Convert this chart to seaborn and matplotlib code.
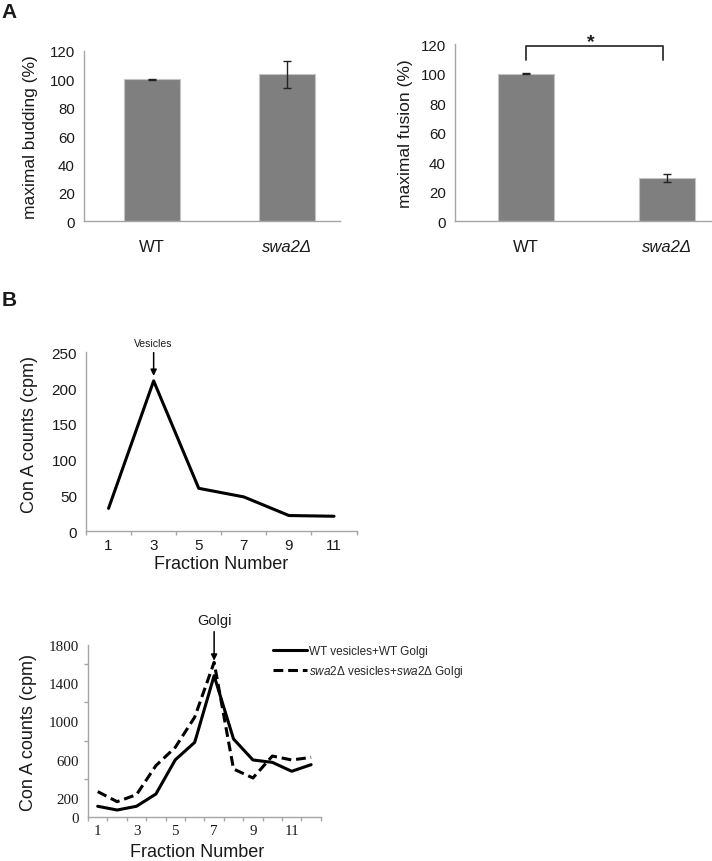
import matplotlib
matplotlib.use('Agg')
import matplotlib.pyplot as plt
import numpy as np
import pandas as pd
import seaborn as sns

# Panel A data
strains = ['WT', 'swa2Δ']
budding = [100, 103.5]
budding_err = [0.3, 9.5]
fusion = [100, 29.3]
fusion_err = [0.3, 2.8]

# Panel B top: vesicle fractions
ves_fraction = [1, 3, 5, 7, 9, 11]
ves_counts = [32, 210, 60, 48, 22, 21]

# Panel B bottom: Golgi fractions
golgi_fraction = [1, 2, 3, 4, 5, 6, 7, 8, 9, 10, 11, 12]
wt_counts = [115, 76, 115, 243, 600, 782, 1477, 817, 598, 573, 480, 549]
swa2_counts = [268, 163, 236, 539, 730, 1045, 1616, 504, 410, 639, 598, 625]

sns.set_style('white')
plt.rcParams['font.family'] = ['Liberation Sans', 'DejaVu Sans']
plt.rcParams['mathtext.fontset'] = 'custom'
plt.rcParams['mathtext.rm'] = 'Liberation Sans'
plt.rcParams['mathtext.it'] = 'Liberation Sans:italic'

spine_gray = '#a6a6a6'
text_col = '#1a1a1a'
bar_gray = '#7f7f7f'

fig = plt.figure(figsize=(7.12, 8.62), dpi=100)


def style_axes(ax):
    sns.despine(ax=ax)
    for s in ('left', 'bottom'):
        ax.spines[s].set_color(spine_gray)
        ax.spines[s].set_linewidth(1.0)
    ax.tick_params(axis='y', length=3, color=spine_gray, width=1.0, colors=text_col)
    ax.tick_params(axis='y', color=spine_gray)


def bar_panel(rect, values, errs, ylabel, xlim, width):
    ax = fig.add_axes(rect)
    sns.barplot(x=strains, y=values, color=bar_gray, saturation=1, width=width,
                edgecolor='#c4c4c4', linewidth=0.8, errorbar=None, ax=ax)
    ax.errorbar(np.arange(len(strains)), values, yerr=errs, fmt='none',
                ecolor='#222222', elinewidth=1.0, capsize=3, capthick=1.0)
    style_axes(ax)
    ax.set_ylim(0, 120)
    ax.set_yticks(np.arange(0, 121, 20))
    ax.set_xlim(*xlim)
    ax.tick_params(axis='x', length=0, pad=13, labelsize=12, colors=text_col)
    ax.tick_params(axis='y', labelsize=10.8)
    ax.get_xticklabels()[1].set_fontstyle('italic')
    ax.set_ylabel(ylabel, fontsize=12.5, color=text_col)
    ax.set_xlabel('')
    return ax


axA1 = bar_panel([0.118, 0.742, 0.3596, 0.198], budding, budding_err,
                 'maximal budding (%)', (-0.504, 1.393), 0.41)
axA1.yaxis.set_label_coords(-0.18, 0.5)

axA2 = bar_panel([0.639, 0.742, 0.361, 0.2057], fusion, fusion_err,
                 'maximal fusion (%)', (-0.504, 1.319), 0.40)
axA2.yaxis.set_label_coords(-0.163, 0.5)
# significance bracket
axA2.plot([0, 0, 0.97, 0.97], [109, 118.8, 118.8, 109], color='#333333', lw=1.3,
          clip_on=False)
axA2.text(0.46, 122, '*', ha='center', va='center', fontsize=14, fontweight='bold',
          color=text_col, clip_on=False)

# Panel B top
axB1 = fig.add_axes([0.1208, 0.3825, 0.380, 0.2077])
sns.lineplot(x=ves_fraction, y=ves_counts, color='black', lw=2.2, ax=axB1)
style_axes(axB1)
axB1.set_ylim(0, 250)
axB1.set_yticks(np.arange(0, 251, 50))
axB1.set_xlim(0, 12)
axB1.set_xticks(ves_fraction)
axB1.set_xticks(np.arange(0, 13, 2), minor=True)
axB1.tick_params(axis='x', which='major', length=0, pad=5, labelsize=11, colors=text_col)
axB1.tick_params(axis='x', which='minor', length=3, color=spine_gray, width=1.0,
                 bottom=True)
axB1.tick_params(axis='y', labelsize=11)
axB1.set_ylabel('Con A counts (cpm)', fontsize=13, color=text_col)
axB1.yaxis.set_label_coords(-0.178, 0.544)
axB1.set_xlabel('Fraction Number', fontsize=13, color=text_col, labelpad=2)
axB1.annotate('Vesicles', xy=(3, 217), xytext=(3, 256), ha='center', va='bottom',
              fontsize=7.5, color=text_col, annotation_clip=False,
              arrowprops=dict(arrowstyle='-|>', color='black', lw=1.1,
                              mutation_scale=9, shrinkA=1, shrinkB=0))

# Panel B bottom
axB2 = fig.add_axes([0.1236, 0.0507, 0.327, 0.2002])
sns.lineplot(x=golgi_fraction, y=wt_counts, color='black', lw=2.2, ax=axB2,
             label='WT vesicles+WT Golgi')
sns.lineplot(x=golgi_fraction, y=swa2_counts, color='black', lw=2.2, ax=axB2,
             linestyle=(0, (3.2, 1.6)),
             label=r'$\mathit{swa2Δ}$ vesicles+$\mathit{swa2Δ}$ Golgi')
style_axes(axB2)
axB2.set_ylim(0, 1800)
axB2.set_yticks([0, 200, 600, 1000, 1400, 1800])
axB2.set_yticks(np.arange(0, 1801, 200), minor=True)
axB2.tick_params(axis='y', which='minor', length=3, color=spine_gray, width=1.0,
                 left=True)
axB2.set_xlim(0.5, 12.5)
axB2.set_xticks([1, 3, 5, 7, 9, 11])
axB2.set_xticks(np.arange(0.5, 12.6, 1), minor=True)
axB2.tick_params(axis='x', which='major', length=0, pad=5, colors=text_col)
axB2.tick_params(axis='x', which='minor', length=3, color=spine_gray, width=1.0,
                 bottom=True)
for lab in axB2.get_xticklabels() + axB2.get_yticklabels():
    lab.set_family('Liberation Serif')
    lab.set_fontsize(10.8)
axB2.set_ylabel('Con A counts (cpm)', fontsize=13, color=text_col)
axB2.yaxis.set_label_coords(-0.22, 0.5)
axB2.set_xlabel('Fraction Number', fontsize=13, color=text_col)
axB2.xaxis.set_label_coords(0.468, -0.148)
axB2.annotate('Golgi', xy=(7, 1633), xytext=(7, 1985), ha='center', va='bottom',
              fontsize=10.5, color=text_col, annotation_clip=False,
              arrowprops=dict(arrowstyle='-|>', color='black', lw=1.1,
                              mutation_scale=9, shrinkA=1, shrinkB=0))
axB2.legend(loc='upper left', bbox_to_anchor=(273 / 712, 1 - 646 / 862),
            bbox_transform=fig.transFigure, frameon=False, fontsize=8.5,
            handlelength=2.9, handletextpad=0.15, labelspacing=0.5,
            borderpad=0, borderaxespad=0)

fig.text(9 / 712, 1 - 12 / 862, 'A', fontsize=15, fontweight='bold', ha='center',
         va='center', color=text_col)
fig.text(9 / 712, 1 - 301 / 862, 'B', fontsize=15, fontweight='bold', ha='center',
         va='center', color=text_col)

fig.savefig('out.png', dpi=100)
